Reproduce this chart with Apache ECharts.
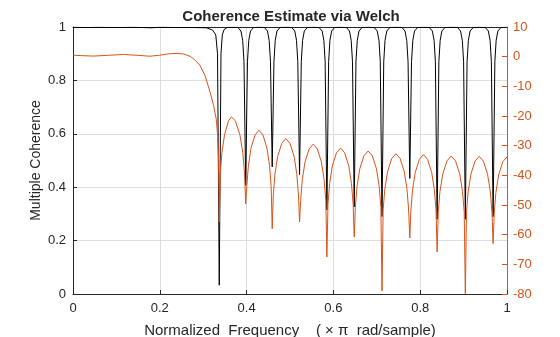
<!DOCTYPE html>
<html>
<head>
<meta charset="utf-8">
<script src="https://cdn.jsdelivr.net/npm/echarts@6/dist/echarts.min.js"></script>
<style>
  html, body { margin: 0; padding: 0; background: #fff; }
  #chart { width: 560px; height: 337px; }
</style>
</head>
<body>
<div id="chart"></div>
<script>
// Magnitude-squared coherence (left axis)
const cohFreq = [
  0, 0.03, 0.06, 0.1, 0.14, 0.18, 0.2, 0.24, 0.28, 0.308, 0.322, 0.329, 0.333, 0.337, 0.341, 0.344, 0.348, 0.355,
  0.3675,
  0.380, 0.387, 0.391, 0.394, 0.398, 0.402, 0.405, 0.409, 0.416, 0.4285,
  0.441, 0.448, 0.452, 0.455, 0.459, 0.463, 0.466, 0.470, 0.477, 0.4905,
  0.504, 0.511, 0.515, 0.518, 0.522, 0.526, 0.529, 0.533, 0.540, 0.5535,
  0.567, 0.574, 0.578, 0.581, 0.585, 0.589, 0.592, 0.596, 0.603, 0.6165,
  0.630, 0.637, 0.641, 0.644, 0.648, 0.652, 0.655, 0.659, 0.666, 0.680,
  0.694, 0.701, 0.705, 0.708, 0.712, 0.716, 0.719, 0.723, 0.730, 0.744,
  0.758, 0.765, 0.769, 0.772, 0.776, 0.780, 0.783, 0.787, 0.794, 0.8075,
  0.821, 0.828, 0.832, 0.835, 0.839, 0.843, 0.846, 0.850, 0.857, 0.8715,
  0.886, 0.893, 0.897, 0.900, 0.904, 0.908, 0.911, 0.915, 0.922, 0.936,
  0.950, 0.957, 0.961, 0.964, 0.968, 0.972, 0.975, 0.979, 0.986, 1.0
];
const cohValues = [
  0.999, 0.998, 0.999, 0.998, 0.999, 0.997, 0.999, 0.998, 0.998, 0.997, 0.988, 0.97, 0.9, 0.033, 0.9, 0.97, 0.99, 0.998,
  0.999,
  0.998, 0.985, 0.95, 0.87, 0.407, 0.87, 0.95, 0.985, 0.998, 0.999,
  0.998, 0.985, 0.95, 0.87, 0.476, 0.87, 0.95, 0.985, 0.998, 0.999,
  0.998, 0.985, 0.95, 0.87, 0.447, 0.87, 0.95, 0.985, 0.998, 0.999,
  0.998, 0.985, 0.95, 0.87, 0.315, 0.87, 0.95, 0.985, 0.998, 0.999,
  0.998, 0.985, 0.95, 0.87, 0.326, 0.87, 0.95, 0.985, 0.998, 0.999,
  0.998, 0.985, 0.95, 0.87, 0.290, 0.87, 0.95, 0.985, 0.998, 0.999,
  0.998, 0.985, 0.95, 0.87, 0.433, 0.87, 0.95, 0.985, 0.998, 0.999,
  0.998, 0.985, 0.95, 0.87, 0.280, 0.87, 0.95, 0.985, 0.998, 0.999,
  0.998, 0.985, 0.95, 0.87, 0.280, 0.87, 0.95, 0.985, 0.998, 0.999,
  0.998, 0.985, 0.95, 0.87, 0.290, 0.87, 0.95, 0.985, 0.998, 0.999
];

// Filter magnitude response in dB (right axis)
const magFreq = [
  0, 0.02, 0.047, 0.08, 0.116, 0.15, 0.177, 0.2, 0.22, 0.24, 0.255, 0.27, 0.28, 0.292, 0.304, 0.316, 0.324, 0.330, 0.3335, 0.3355, 0.337,
  0.3394, 0.3431, 0.3492, 0.3584, 0.3650, 0.3740, 0.3845, 0.3912, 0.3953, 0.398,
  0.4004, 0.4041, 0.4102, 0.4194, 0.4285, 0.4377, 0.4468, 0.4529, 0.4566, 0.459,
  0.4615, 0.4653, 0.4716, 0.4811, 0.4905, 0.4999, 0.5094, 0.5157, 0.5195, 0.522,
  0.5245, 0.5283, 0.5346, 0.5441, 0.5535, 0.5629, 0.5724, 0.5787, 0.5825, 0.585,
  0.5875, 0.5913, 0.5976, 0.6071, 0.6165, 0.6259, 0.6354, 0.6417, 0.6455, 0.648,
  0.6506, 0.6544, 0.6608, 0.6704, 0.6800, 0.6896, 0.6992, 0.7056, 0.7094, 0.712,
  0.7146, 0.7184, 0.7248, 0.7344, 0.7440, 0.7536, 0.7632, 0.7696, 0.7734, 0.776,
  0.7785, 0.7823, 0.7886, 0.7981, 0.8075, 0.8169, 0.8264, 0.8327, 0.8365, 0.839,
  0.8416, 0.8455, 0.8520, 0.8618, 0.8715, 0.8813, 0.8910, 0.8975, 0.9014, 0.904,
  0.9066, 0.9104, 0.9168, 0.9264, 0.9360, 0.9456, 0.9552, 0.9616, 0.9654, 0.968,
  0.9706, 0.9744, 0.9808, 0.9904, 1.0
];
const magDb = [
  0.5, 0.35, 0.2, 0.45, 0.75, 0.45, 0.15, 0.5, 0.95, 1.1, 0.9, 0.1, -1, -2.8, -6.3, -12, -16.5, -21, -27, -35, -55.7,
  -39.3, -32.3, -26.3, -21.6, -20.3, -21.6, -26.3, -32.3, -39.3, -49.6,
  -43.8, -36.8, -30.8, -26.4, -24.8, -26.4, -30.8, -36.8, -43.8, -58,
  -46.6, -39.6, -33.6, -29.2, -27.6, -29.2, -33.6, -39.6, -46.6, -55.7,
  -48.5, -41.5, -35.5, -31.1, -29.5, -31.1, -35.5, -41.5, -48.5, -67.5,
  -49.8, -42.8, -36.8, -32.4, -30.8, -32.4, -36.8, -42.8, -49.8, -60.8,
  -50.8, -43.8, -37.8, -33.4, -31.8, -33.4, -37.8, -43.8, -50.8, -79,
  -51.7, -44.7, -38.7, -34.3, -32.7, -34.3, -38.7, -44.7, -51.7, -61.1,
  -52, -45, -39, -34.6, -33, -34.6, -39, -45, -52, -65.8,
  -52.5, -45.5, -39.5, -35.1, -33.5, -35.1, -39.5, -45.5, -52.5, -79.9,
  -52.6, -45.6, -39.6, -35.2, -33.6, -35.2, -39.6, -45.6, -52.6, -63,
  -52.8, -45.8, -39.8, -35.4, -33.8
];

const xTickLabels = ['0', '0.2', '0.4', '0.6', '0.8', '1'];
const cohTickLabels = ['0', '0.2', '0.4', '0.6', '0.8', '1'];
const dbTickLabels = ['-80', '-70', '-60', '-50', '-40', '-30', '-20', '-10', '0', '10'];

const INK = '#262626';
const ORANGE = '#D95319';
const GRID = '#dedede';
const FONT = '"Liberation Sans", Arial, Helvetica, sans-serif';

const pairs = (xs, ys) => xs.map((x, i) => [x, ys[i]]);

const chart = echarts.init(document.getElementById('chart'), null, { renderer: 'canvas' });
chart.setOption({
  animation: false,
  backgroundColor: '#fff',
  textStyle: { fontFamily: FONT },
  title: {
    text: 'Coherence Estimate via Welch',
    left: 286,
    top: 4,
    textAlign: 'center',
    textStyle: { fontFamily: FONT, fontSize: 15, fontWeight: 'bold', color: INK }
  },
  grid: { left: 73, right: 53, top: 27, bottom: 43, containLabel: false, outerBoundsMode: 'none' },
  xAxis: [
    {
      type: 'value', min: 0, max: 1, interval: 0.2, position: 'bottom',
      name: 'Normalized  Frequency    ( \u00d7 \u03c0  rad/sample)',
      nameLocation: 'middle', nameGap: 29, nameMoveOverlap: false,
      nameTextStyle: { fontFamily: FONT, fontSize: 15, color: INK },
      axisLine: { show: true, onZero: false, lineStyle: { color: INK, width: 1 } },
      axisTick: { show: true, inside: true, length: 4, lineStyle: { color: INK } },
      axisLabel: {
        fontFamily: FONT, fontSize: 13, color: INK, margin: 8,
        formatter: v => xTickLabels[Math.round(v / 0.2)]
      },
      splitLine: { show: true, lineStyle: { color: GRID, width: 1 } }
    },
    {
      type: 'value', min: 0, max: 1, position: 'top',
      axisLine: { show: true, onZero: false, lineStyle: { color: INK, width: 1 } },
      axisTick: { show: false }, axisLabel: { show: false }, splitLine: { show: false }
    }
  ],
  yAxis: [
    {
      type: 'value', min: 0, max: 1, interval: 0.2, position: 'left',
      name: 'Multiple Coherence', nameLocation: 'middle', nameGap: 30, nameMoveOverlap: false,
      nameTextStyle: { fontFamily: FONT, fontSize: 14, color: INK },
      axisLine: { show: true, onZero: false, lineStyle: { color: INK, width: 1 } },
      axisTick: { show: true, inside: true, length: 4, lineStyle: { color: INK } },
      axisLabel: {
        fontFamily: FONT, fontSize: 13, color: INK, margin: 7,
        formatter: v => cohTickLabels[Math.round(v / 0.2)]
      },
      splitLine: { show: true, lineStyle: { color: GRID, width: 1 } }
    },
    {
      type: 'value', min: -80, max: 10, interval: 10, position: 'right',
      axisLine: { show: true, onZero: false, lineStyle: { color: ORANGE, width: 1 } },
      axisTick: { show: true, inside: true, length: 5, lineStyle: { color: ORANGE } },
      axisLabel: {
        fontFamily: FONT, fontSize: 13, color: ORANGE, margin: 6,
        formatter: v => dbTickLabels[Math.round((v + 80) / 10)]
      },
      splitLine: { show: false }
    }
  ],
  series: [
    {
      name: 'Coherence', type: 'line', xAxisIndex: 0, yAxisIndex: 0,
      data: pairs(cohFreq, cohValues),
      showSymbol: false, symbol: 'none', clip: true, z: 3,
      lineStyle: { color: '#000', width: 1 }
    },
    {
      name: 'Magnitude (dB)', type: 'line', xAxisIndex: 0, yAxisIndex: 1,
      data: pairs(magFreq, magDb),
      showSymbol: false, symbol: 'none', clip: true, z: 4,
      lineStyle: { color: ORANGE, width: 1 }
    }
  ]
});
</script>
</body>
</html>
